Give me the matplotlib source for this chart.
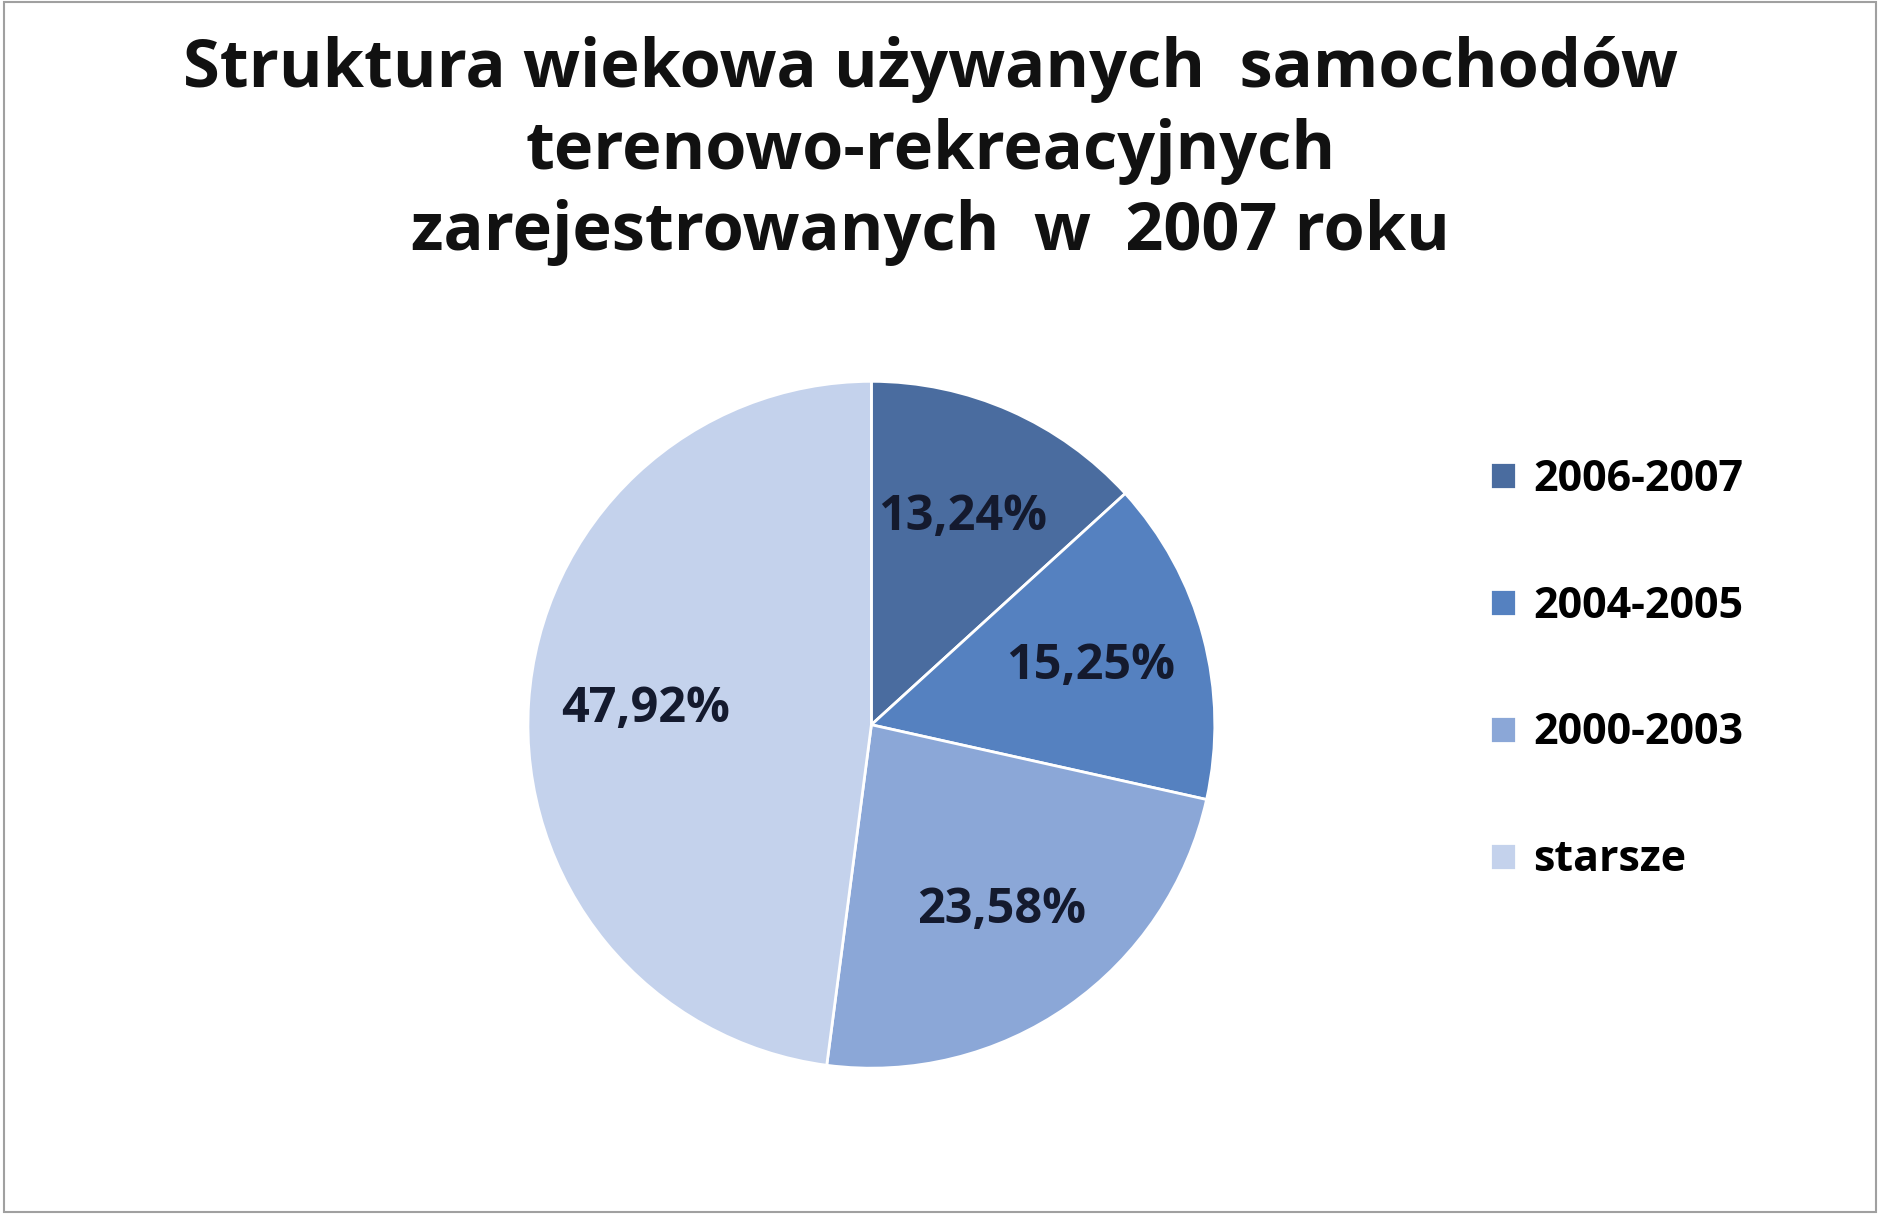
import matplotlib
matplotlib.use("Agg")
import matplotlib.pyplot as plt
from matplotlib.patches import Rectangle

categories = ["2006-2007", "2004-2005", "2000-2003", "starsze"]
values = [13.24, 15.25, 23.58, 47.92]
colors = ["#4a6c9f", "#5581c0", "#8ba7d7", "#c4d2ec"]
title = "Struktura wiekowa używanych  samochodów\nterenowo-rekreacyjnych\nzarejestrowanych  w  2007 roku"

plt.rcParams['font.family'] = ['Open Sans', 'DejaVu Sans']
fig = plt.figure(figsize=(18.8, 12.14), dpi=100)
fig.patches.append(Rectangle((0.002, 0.002), 0.996, 0.996, transform=fig.transFigure,
                             fill=False, edgecolor="#a0a0a0", linewidth=1.5))
fig.text(0.495, 0.97, title, ha="center", va="top", fontsize=48, fontweight="bold",
         color="#111111", linespacing=1.28)

ax = fig.add_axes([0.279, 0.117, 0.369, 0.572])
wedges, texts, autotexts = ax.pie(
    values, colors=colors, startangle=90, counterclock=False,
    autopct=lambda p: f"{p:.2f}%".replace('.', ','), pctdistance=0.66,
    wedgeprops=dict(edgecolor="white", linewidth=2),
    textprops=dict(fontsize=35, fontweight="bold", color="#141a2e"))
ax.set_xlim(-1.01, 1.01)
ax.set_ylim(-1.01, 1.01)
ax.set_aspect("equal")

fig.legend(wedges, categories, loc="upper left", bbox_to_anchor=(0.772, 0.655),
           frameon=False, handlelength=0.6, handleheight=0.6,
           labelspacing=1.95, handletextpad=0.4,
           prop=dict(size=31, weight="bold"))
fig.savefig("out.png", dpi=100)
